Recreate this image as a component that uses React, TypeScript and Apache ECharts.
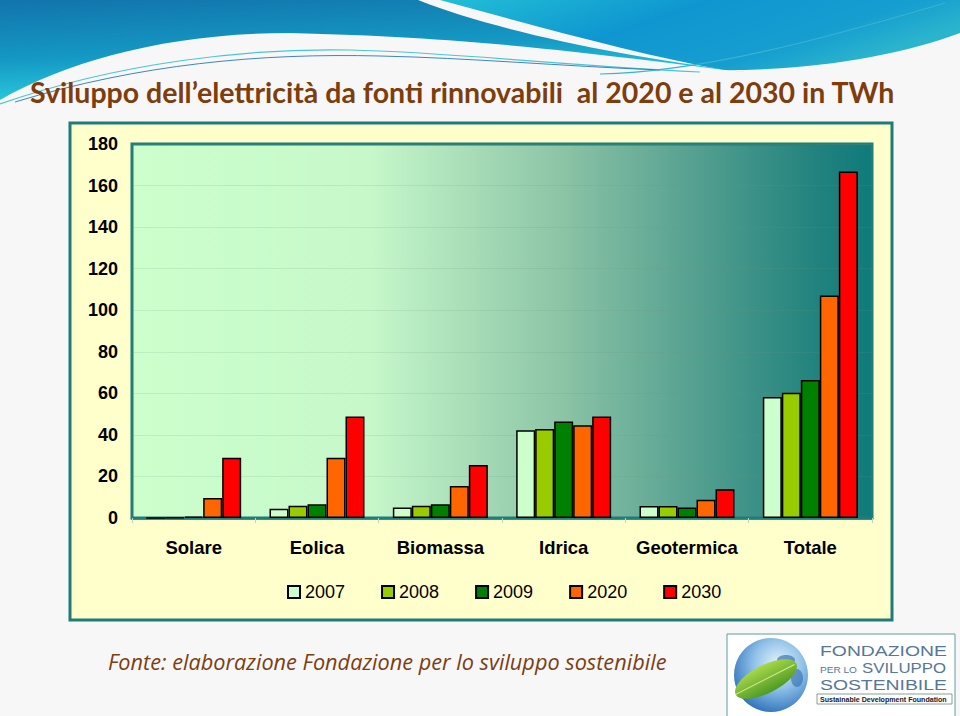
import React, { useEffect, useRef } from "react";
import * as echarts from "echarts";

const categories = ["Solare", "Eolica", "Biomassa", "Idrica", "Geotermica", "Totale"];
const years = ["2007", "2008", "2009", "2020", "2030"];
const v2007 = [0.04, 4.5, 5.1, 42.2, 5.8, 58.2];
const v2008 = [0.2, 5.9, 5.9, 42.8, 5.8, 60.3];
const v2009 = [0.7, 6.6, 6.6, 46.5, 5.1, 66.4];
const v2020 = [9.6, 29.0, 15.4, 44.6, 8.8, 107.1];
const v2030 = [29.0, 48.9, 25.5, 48.9, 13.8, 166.8];
const seriesValues = [v2007, v2008, v2009, v2020, v2030];
const seriesColors = ["#CCFFCC", "#99CC00", "#008000", "#FF6600", "#FF0000"];

const titleText = "Sviluppo dell\u2019elettricità da fonti rinnovabili  al 2020 e al 2030 in TWh";
const sourceText = "Fonte: elaborazione Fondazione per lo sviluppo sostenibile";

function measure(text: string, font: string): number {
  const c = document.createElement("canvas").getContext("2d");
  if (!c) return 1;
  c.font = font;
  return c.measureText(text).width || 1;
}

let registered = false;
function registerShapes() {
  if (registered) return;
  registered = true;
  echarts.graphic.registerShape(
    "waveA",
    echarts.graphic.extendPath(
      "M0,0 L418,0 C500,32 620,56 745,72 C620,58 500,38 290,33 C170,33 70,60 0,100 Z",
      {}
    )
  );
  echarts.graphic.registerShape(
    "waveB",
    echarts.graphic.extendPath(
      "M440,0 L960,0 L960,33 C900,55 820,70 725,70 C640,55 540,27 440,0 Z",
      {}
    )
  );
  echarts.graphic.registerShape(
    "streak1",
    echarts.graphic.extendPath("M0,104 C120,62 250,48 350,50 C450,52 540,64 700,72", {})
  );
  echarts.graphic.registerShape(
    "streak2",
    echarts.graphic.extendPath("M15,102 C140,64 260,53 380,56 C470,58 560,66 660,70", {})
  );
  echarts.graphic.registerShape(
    "streak3",
    echarts.graphic.extendPath("M600,74 C700,72 820,40 945,3", {})
  );
}

const logoColor = "#557898";

export default function App() {
  const ref = useRef<HTMLDivElement>(null);
  useEffect(() => {
    if (!ref.current) return;
    registerShapes();
    const chart = echarts.init(ref.current, undefined, { renderer: "svg" });

    const titleFont = "bold 28px Lato";
    const titleScale = 865 / measure(titleText, titleFont);
    const srcFont = 'italic 21px "Open Sans"';
    const srcScale = 559 / measure(sourceText, srcFont);
    const logoFont = '14px "Liberation Sans"';
    const fScale = 127 / measure("FONDAZIONE", logoFont);
    const svScale = 84 / measure("SVILUPPO", logoFont);
    const soScale = 127 / measure("SOSTENIBILE", logoFont);
    const perFont = '9px "Liberation Sans"';
    const perScale = 37 / measure("PER LO", perFont);
    const susFont = 'bold 7px "Liberation Sans"';
    const susScale = 127 / measure("Sustainable Development Foundation", susFont);

    const series = years.map((y, i) => ({
      name: y,
      type: "bar",
      data: seriesValues[i],
      barWidth: 19,
      barGap: "0%",
      itemStyle: { color: seriesColors[i], borderColor: "#000", borderWidth: 1.5 },
    }));

    const option: any = {
      animation: false,
      backgroundColor: "#F7F7F7",
      textStyle: { fontFamily: "Liberation Sans, Arial, sans-serif" },
      grid: {
        left: 132,
        top: 144,
        width: 740,
        height: 374,
        show: true,
        borderColor: "#1F7E7B",
        borderWidth: 3,
        backgroundColor: {
          type: "linear",
          x: 0,
          y: 0,
          x2: 1,
          y2: 0,
          colorStops: [
            { offset: 0, color: "#CCFFCC" },
            { offset: 0.32, color: "#C6F8CA" },
            { offset: 0.58, color: "#8CC4A6" },
            { offset: 0.76, color: "#55A090" },
            { offset: 0.92, color: "#23837E" },
            { offset: 1, color: "#0E7B7A" },
          ],
        },
      },
      xAxis: {
        type: "category",
        data: categories,
        axisLine: { show: true, lineStyle: { color: "#1F7E7B", width: 2.5 } },
        axisTick: { show: true, length: 5, lineStyle: { color: "#B8D8C0" } },
        axisLabel: {
          interval: 0,
          color: "#000",
          fontSize: 18.5,
          fontWeight: "bold",
          margin: 20,
          fontFamily: "Liberation Sans, Arial, sans-serif",
        },
      },
      yAxis: {
        type: "value",
        min: 0,
        max: 180,
        interval: 20,
        axisLine: { show: false },
        axisTick: { show: false },
        axisLabel: {
          color: "#000",
          fontSize: 18,
          fontWeight: "bold",
          margin: 14,
          fontFamily: "Liberation Sans, Arial, sans-serif",
        },
        splitLine: { lineStyle: { color: "rgba(110,150,125,0.16)", width: 1 } },
      },
      legend: {
        data: years,
        left: 287,
        top: 583,
        padding: 0,
        itemWidth: 12,
        itemHeight: 12,
        itemGap: 36,
        icon: "rect",
        textStyle: { color: "#000", fontSize: 18, fontFamily: "Liberation Sans, Arial, sans-serif" },
      },
      series,
      graphic: [
        {
          type: "rect",
          z: -20,
          shape: { x: 70, y: 123, width: 822, height: 497 },
          style: { fill: "#FFFFCC", stroke: "#1E7C78", lineWidth: 3 },
        },
        {
          type: "waveA",
          z: -20,
          x: 0,
          y: 0,
          style: {
            fill: new echarts.graphic.LinearGradient(0, 0, 0.3, 1, [
              { offset: 0, color: "#1274AC" },
              { offset: 0.55, color: "#1498C4" },
              { offset: 1, color: "#2CCFE0" },
            ]),
          },
        },
        {
          type: "waveB",
          z: -20,
          x: 0,
          y: 0,
          style: {
            fill: new echarts.graphic.LinearGradient(0, 0, 1, 0.4, [
              { offset: 0, color: "#22BED6" },
              { offset: 0.45, color: "#0F96D0" },
              { offset: 0.8, color: "#169ED0" },
              { offset: 1, color: "#2BB5CC" },
            ]),
          },
        },
        {
          type: "streak1",
          z: -19,
          style: { fill: null, stroke: "#4CC4D6", lineWidth: 1.2 },
        },
        {
          type: "streak2",
          z: -19,
          style: { fill: null, stroke: "#2A78B4", lineWidth: 0.9 },
        },
        {
          type: "streak3",
          z: -19,
          style: { fill: null, stroke: "#3AB2D0", lineWidth: 1.2 },
        },
        {
          type: "text",
          z: 10,
          x: 30,
          y: 92,
          scaleX: titleScale,
          style: {
            text: titleText,
            font: titleFont,
            fill: "#7E3D0D",
            verticalAlign: "middle",
            align: "left",
          },
        },
        {
          type: "text",
          z: 10,
          x: 108,
          y: 662,
          scaleX: srcScale,
          style: {
            text: sourceText,
            font: srcFont,
            fill: "#7B3F12",
            verticalAlign: "middle",
            align: "left",
          },
        },
        // logo
        {
          type: "rect",
          z: -15,
          shape: { x: 727, y: 634, width: 228, height: 90 },
          style: { fill: "#FFFFFF", stroke: "#5F9E9C", lineWidth: 1 },
        },
        {
          type: "circle",
          z: -14,
          shape: { cx: 771, cy: 675, r: 37 },
          style: {
            fill: new echarts.graphic.RadialGradient(0.6, 0.35, 0.75, [
              { offset: 0, color: "#E6F3FB" },
              { offset: 0.45, color: "#8FC1E8" },
              { offset: 1, color: "#1E64B4" },
            ]),
          },
        },
        {
          type: "ellipse",
          z: -13,
          shape: { cx: 786, cy: 660, rx: 9, ry: 5 },
          style: { fill: "rgba(40,100,170,0.6)" },
        },
        {
          type: "ellipse",
          z: -13,
          shape: { cx: 797, cy: 678, rx: 6, ry: 9 },
          style: { fill: "rgba(40,100,170,0.55)" },
        },
        {
          type: "group",
          z: -12,
          x: 766,
          y: 679,
          rotation: 0.47,
          children: [
            {
              type: "ellipse",
              z: -12,
              shape: { cx: 0, cy: 0, rx: 34, ry: 14 },
              style: {
                fill: new echarts.graphic.LinearGradient(0, 0, 0, 1, [
                  { offset: 0, color: "#A8D84A" },
                  { offset: 1, color: "#4E9A22" },
                ]),
              },
            },
            {
              type: "line",
              z: -11,
              shape: { x1: -34, y1: 0, x2: 32, y2: 0 },
              style: { stroke: "#D8EFA0", lineWidth: 1 },
            },
          ],
        },
        {
          type: "text",
          z: -10,
          x: 820,
          y: 651,
          scaleX: fScale,
          style: { text: "FONDAZIONE", font: logoFont, fill: logoColor, verticalAlign: "middle" },
        },
        {
          type: "text",
          z: -10,
          x: 820,
          y: 670,
          scaleX: perScale,
          style: { text: "PER LO", font: perFont, fill: logoColor, verticalAlign: "middle" },
        },
        {
          type: "text",
          z: -10,
          x: 862,
          y: 668,
          scaleX: svScale,
          style: { text: "SVILUPPO", font: logoFont, fill: logoColor, verticalAlign: "middle" },
        },
        {
          type: "text",
          z: -10,
          x: 820,
          y: 685,
          scaleX: soScale,
          style: { text: "SOSTENIBILE", font: logoFont, fill: logoColor, verticalAlign: "middle" },
        },
        {
          type: "rect",
          z: -10,
          shape: { x: 817, y: 694, width: 135, height: 10 },
          style: { fill: "#FFFFFF", stroke: "#6A8A7A", lineWidth: 0.8 },
        },
        {
          type: "text",
          z: -9,
          x: 820,
          y: 699.5,
          scaleX: susScale,
          style: {
            text: "Sustainable Development Foundation",
            font: susFont,
            fill: "#222",
            verticalAlign: "middle",
          },
        },
      ],
    };
    chart.setOption(option);
    return () => chart.dispose();
  }, []);
  return (
    <div
      ref={ref}
      style={{ position: "absolute", left: 0, top: 0, width: 960, height: 716 }}
    />
  );
}
